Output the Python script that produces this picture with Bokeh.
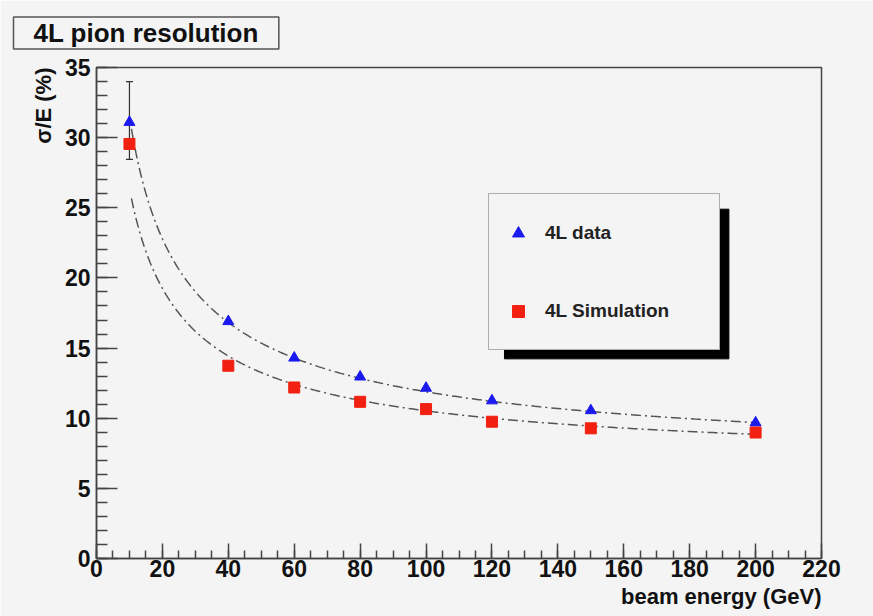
import numpy as np
from bokeh.plotting import figure
from bokeh.models import (Range1d, SingleIntervalTicker, Whisker, TeeHead, Title,
                          ColumnDataSource, Legend, LegendItem)
from bokeh.embed import file_html
from bokeh.resources import INLINE

# ---- measurements -------------------------------------------------------
energy = [10, 40, 60, 80, 100, 120, 150, 200]                  # beam energy (GeV)
res_data = [31.1, 16.9, 14.3, 12.95, 12.15, 11.25, 10.55, 9.68]  # 4L data, sigma/E (%)
res_sim = [29.55, 13.74, 12.19, 11.17, 10.65, 9.75, 9.28, 8.98]  # 4L simulation, sigma/E (%)

# error bar shown on the lowest-energy data point
err_energy = [10]
err_low = [28.45]
err_high = [34.0]

# resolution fits: sigma/E = a/sqrt(E) (+) b   (quadrature sum)
fit_data = dict(a=97.2, b=6.84)
fit_sim = dict(a=80.6, b=6.77)
fit_range = (10.6, 200.0)

x_ticks_major = 20
y_ticks_major = 5

FONT = "Liberation Sans"
BG = "#f4f4f4"
AXIS = "#444444"
TEXT = "#111111"


def resolution(e, a, b):
    return np.sqrt(a ** 2 / e + b ** 2)


p = figure(width=873, height=616, output_backend="svg", toolbar_location=None,
           x_range=Range1d(0, 220), y_range=Range1d(0, 35),
           min_border_left=96, min_border_right=52, min_border_top=66,
           min_border_bottom=58)
p.background_fill_color = BG
p.border_fill_color = BG
p.outline_line_color = AXIS
p.outline_line_width = 1.5
p.xgrid.visible = False
p.ygrid.visible = False

# ---- title box ---------------------------------------------------------------
p.title.text = "4L pion resolution"
p.title.align = "left"
p.title.vertical_align = "top"
p.title.offset = -83
p.title.standoff = 33
p.title.text_font = FONT
p.title.text_font_style = "bold"
p.title.text_font_size = "26px"
p.title.text_color = TEXT
p.title.background_fill_color = BG
p.title.border_line_color = "#555555"
p.title.border_line_width = 1.5
p.title.padding = (20, 1)

# ---- axes ---------------------------------------------------------------
p.xaxis.ticker = SingleIntervalTicker(interval=x_ticks_major, num_minor_ticks=4)
p.yaxis.ticker = SingleIntervalTicker(interval=y_ticks_major, num_minor_ticks=5)
for ax in (p.xaxis, p.yaxis):
    ax.axis_line_color = AXIS
    ax.axis_line_width = 1.5
    ax.major_tick_line_color = AXIS
    ax.minor_tick_line_color = AXIS
    ax.major_tick_line_width = 1.5
    ax.minor_tick_line_width = 1.5
    ax.major_tick_out = 0
    ax.minor_tick_out = 0
    ax.major_label_text_font = FONT
    ax.major_label_text_font_style = "bold"
    ax.major_label_text_font_size = "23px"
    ax.major_label_text_color = TEXT
p.xaxis.major_tick_in = 15
p.xaxis.minor_tick_in = 8
p.xaxis.major_label_standoff = 1
p.yaxis.major_tick_in = 21
p.yaxis.minor_tick_in = 11
p.yaxis.major_label_standoff = 6

# axis titles, flush with the far ends of the axes
axis_title_kw = dict(text_font=FONT, text_font_style="bold", text_font_size="22px",
                     text_color=TEXT, align="right")
p.add_layout(Title(text="beam energy (GeV)", standoff=4, **axis_title_kw), "below")
p.add_layout(Title(text="σ/E (%)", standoff=11, **axis_title_kw), "left")

# ---- legend shadow (drawn under the legend box) ----------------------------
p.quad(left=[123.8], right=[191.9], top=[24.9], bottom=[14.23],
       fill_color="#000000", line_color="#000000")

# ---- fit curves ------------------------------------------------------------
e_fit = np.linspace(fit_range[0], fit_range[1], 400)
p.line(e_fit, resolution(e_fit, **fit_data), line_color="#555555", line_width=1.5,
       line_dash="10 4 2 4")
p.line(e_fit, resolution(e_fit, **fit_sim), line_color="#555555", line_width=1.5,
       line_dash="10 4 2 4")

# ---- error bar ---------------------------------------------------------------
err_src = ColumnDataSource(dict(base=err_energy, lower=err_low, upper=err_high))
p.add_layout(Whisker(source=err_src, base="base", lower="lower", upper="upper",
                     dimension="height", line_color="#333333", line_width=1.2,
                     upper_head=TeeHead(size=7, line_color="#333333", line_width=1.2),
                     lower_head=TeeHead(size=7, line_color="#333333", line_width=1.2)))

# ---- points ----------------------------------------------------------------
r_data = p.scatter(energy, res_data, marker="triangle", size=11,
                   fill_color="#1a1aee", line_color="#1a1aee")
r_sim = p.scatter(energy, res_sim, marker="square", size=11,
                  fill_color="#f22010", line_color="#f22010")

legend = Legend(items=[LegendItem(label="4L data", renderers=[r_data]),
                       LegendItem(label="4L Simulation", renderers=[r_sim])],
                location=(392, 208), margin=0, padding=14, spacing=29,
                glyph_width=30, glyph_height=30, label_height=49, label_width=160,
                label_standoff=12, label_text_font=FONT, label_text_font_style="bold",
                label_text_font_size="19px", label_text_color="#222222",
                background_fill_color=BG, background_fill_alpha=1.0,
                border_line_color="#666666", border_line_width=1.5)
p.add_layout(legend)

open("out.html", "w").write(file_html(p, INLINE))
